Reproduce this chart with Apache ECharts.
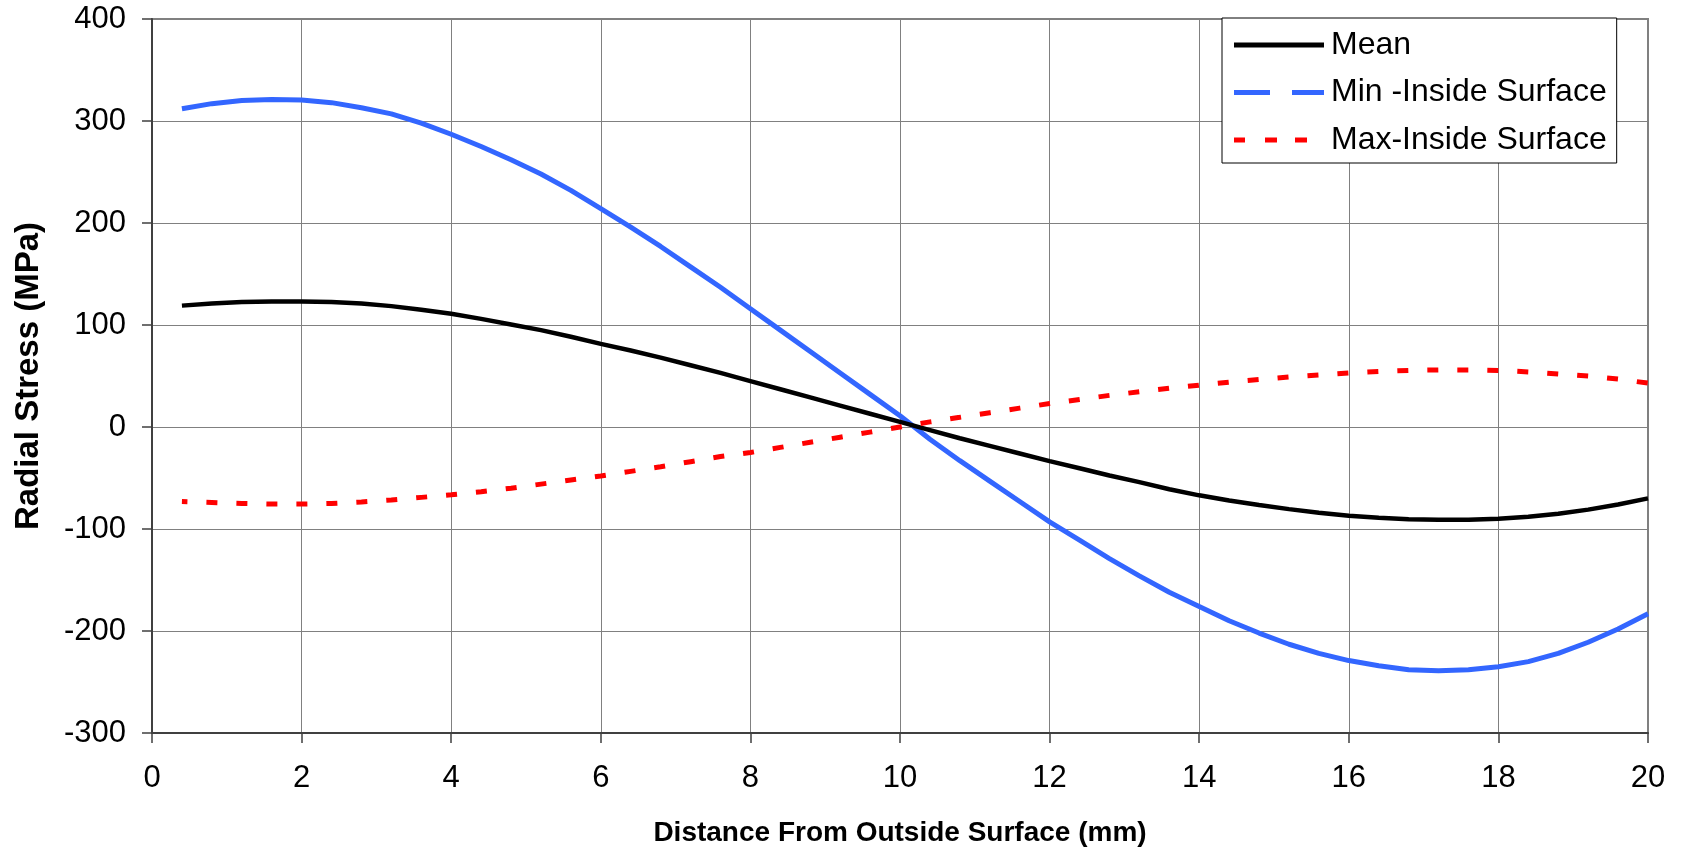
<!DOCTYPE html>
<html>
<head>
<meta charset="utf-8">
<script src="https://cdn.jsdelivr.net/npm/echarts@6/dist/echarts.min.js"></script>
<style>
html,body{margin:0;padding:0;background:#fff;}
#chart{width:1682px;height:852px;}
</style>
</head>
<body>
<div id="chart"></div>
<script>
const xValues = [0.4,0.8,1.2,1.6,2.0,2.4,2.8,3.2,3.6,4.0,4.4,4.8,5.2,5.6,6.0,6.4,6.8,7.2,7.6,8.0,8.4,8.8,9.2,9.6,10.0,10.4,10.8,11.2,11.6,12.0,12.4,12.8,13.2,13.6,14.0,14.4,14.8,15.2,15.6,16.0,16.4,16.8,17.2,17.6,18.0,18.4,18.8,19.2,19.6,20.0];
const meanValues = [119,121,122.5,123,123,122.5,121,118.5,115,111,106,100.5,95,88.5,81.5,75,68,60.5,53,45,37,29,21,13,5,-3,-11,-18.5,-26,-33.5,-40.5,-47.5,-54,-61,-67,-72,-76.5,-80.5,-84,-87,-89,-90.5,-91,-91,-90,-88,-85,-81,-76,-70];
const minInsideValues = [312,317,320,321,320.5,318,313,307,298,287,275,262,248,232,214,196,177,157,137,116,95,74,53,32,11,-12,-33,-53,-73,-93,-111,-129,-146,-162,-176,-190,-202,-213,-222,-229,-234,-238,-239,-238,-235,-230,-222,-211,-198,-183];
const maxInsideValues = [-73,-74,-75,-75.5,-75.5,-75,-73.5,-71.5,-69,-66.5,-63.5,-60,-56,-52,-48,-43.5,-39,-34,-29,-25,-20,-15,-10,-5,0,5,9.5,14,18.5,23,27,31,34.5,38,41,44,46.5,49,51,53,54.5,55.5,56,56,55.5,54,52,50,47,43];
const seriesNames = ['Mean','Min -Inside Surface','Max-Inside Surface'];
const xTitle = 'Distance From Outside Surface (mm)';
const yTitle = 'Radial Stress (MPa)';

const FONT = '"Liberation Sans", Arial, Helvetica, sans-serif';
const pairs = arr => xValues.map((x, i) => [x, arr[i]]);

const chart = echarts.init(document.getElementById('chart'), null, {renderer: 'canvas'});
chart.setOption({
  animation: false,
  backgroundColor: '#ffffff',
  grid: {left: 152, top: 19, right: 34, bottom: 119, show: true, borderColor: '#808080', borderWidth: 2, backgroundColor: 'transparent'},
  legend: {
    left: 1222, top: 18, orient: 'vertical',
    backgroundColor: '#ffffff', borderColor: '#000000', borderWidth: 1,
    padding: [9, 10, 5, 12],
    itemWidth: 90, itemHeight: 5, itemGap: 11.5,
    itemStyle: {borderWidth: 0},
    textStyle: {fontFamily: FONT, fontSize: 32, color: '#000', lineHeight: 36, padding: [0,0,0,2]},
    data: [
      {name: seriesNames[0], icon: 'path://M0,0H90V5H0Z'},
      {name: seriesNames[1], icon: 'path://M0,0H36V5H0Z M58,0H90V5H58Z'},
      {name: seriesNames[2], icon: 'path://M0,0H11V5H0Z M31,0H43V5H31Z M61,0H73V5H61Z M90,0L90,5'}
    ]
  },
  xAxis: {
    type: 'value', min: 0, max: 20, interval: 2,
    name: xTitle, nameLocation: 'middle', nameGap: 86,
    nameTextStyle: {fontFamily: FONT, fontSize: 28, fontWeight: 'bold', color: '#000'},
    axisLine: {show: true, onZero: false, lineStyle: {color: '#404040', width: 2}},
    axisTick: {show: true, length: 10, lineStyle: {color: '#404040', width: 1.5}},
    axisLabel: {fontFamily: FONT, fontSize: 31, color: '#000', margin: 30},
    splitLine: {show: true, lineStyle: {color: '#808080', width: 1}}
  },
  yAxis: {
    type: 'value', min: -300, max: 400, interval: 100,
    name: yTitle, nameLocation: 'middle', nameGap: 107, nameRotate: 90,
    nameTextStyle: {fontFamily: FONT, fontSize: 33, fontWeight: 'bold', color: '#000'},
    axisLine: {show: true, onZero: false, lineStyle: {color: '#404040', width: 2}},
    axisTick: {show: true, length: 10, lineStyle: {color: '#404040', width: 1.5}},
    axisLabel: {fontFamily: FONT, fontSize: 31, color: '#000', margin: 26},
    splitLine: {show: true, lineStyle: {color: '#808080', width: 1}}
  },
  series: [
    {name: seriesNames[0], type: 'line', data: pairs(meanValues), showSymbol: false, symbol: 'none',
     color: '#000000', lineStyle: {color: '#000000', width: 4.5}, z: 3},
    {name: seriesNames[1], type: 'line', data: pairs(minInsideValues), showSymbol: false, symbol: 'none',
     color: '#3366FF', lineStyle: {color: '#3366FF', width: 5}, z: 2},
    {name: seriesNames[2], type: 'line', data: pairs(maxInsideValues), showSymbol: false, symbol: 'none',
     color: '#FF0000', lineStyle: {color: '#FF0000', width: 5, type: [11, 19], dashOffset: 5.5, cap: 'butt'}, z: 4}
  ]
});
</script>
</body>
</html>
